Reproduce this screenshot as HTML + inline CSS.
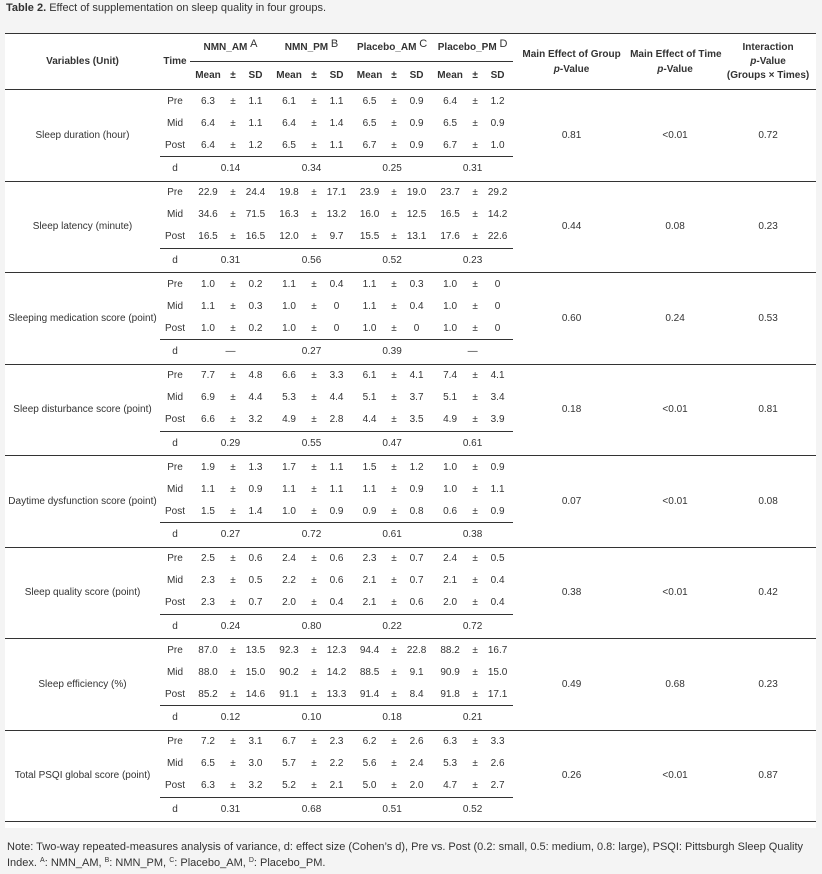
<!DOCTYPE html>
<html><head><meta charset="utf-8"><style>
html,body{margin:0;padding:0;background:#f4f4f4;width:822px;height:874px;overflow:hidden;font-family:"Liberation Sans",Arial,sans-serif;color:#333}
.title{position:absolute;left:6px;top:2px;font-size:11px;color:#333}
.wrap{position:absolute;left:5px;top:33px;width:811px;height:795px;background:#fff}
table{border-collapse:collapse;table-layout:fixed;width:811px;font-size:10px;border-top:1.5px solid #333}
td{padding:0;text-align:center;vertical-align:middle;white-space:nowrap;overflow:visible}
th{padding:0;font-weight:bold;text-align:center;vertical-align:middle;white-space:nowrap;font-size:10px}
th sup{font-weight:normal;font-size:11px;vertical-align:3px;line-height:0}
.hb td,.hb th{border-bottom:1.5px solid #333}
tr.r td{height:22px}
tr.d td{height:23.5px}
tr.last td{border-bottom:1.5px solid #333}
.ul{border-bottom:1.5px solid #333}
.sub{border-bottom:1.5px solid #333}
.note{position:absolute;left:7px;top:839px;font-size:11px;line-height:16px;color:#333;width:900px}
.note sup{font-size:7px;vertical-align:4px;line-height:0}
</style></head><body>
<div class="title"><b>Table 2.</b> Effect of supplementation on sleep quality in four groups.</div>
<div class="wrap">
<table>
<colgroup><col style="width:155px"><col style="width:30px">
<col style="width:36px"><col style="width:14px"><col style="width:31px">
<col style="width:36px"><col style="width:14px"><col style="width:31px">
<col style="width:35px"><col style="width:14px"><col style="width:31px">
<col style="width:36px"><col style="width:14px"><col style="width:31px">
<col style="width:117px"><col style="width:90px"><col style="width:96px"></colgroup>
<tr style="height:28px"><th rowspan="2" style="border-bottom:1.5px solid #333">Variables (Unit)</th><th rowspan="2" style="border-bottom:1.5px solid #333">Time</th>
<th colspan="3" class="sub">NMN_AM <sup>A</sup></th><th colspan="3" class="sub">NMN_PM <sup>B</sup></th><th colspan="3" class="sub">Placebo_AM <sup>C</sup></th><th colspan="3" class="sub">Placebo_PM <sup>D</sup></th>
<th rowspan="2" style="border-bottom:1.5px solid #333;line-height:15px">Main Effect of Group<br><i>p</i>-Value</th>
<th rowspan="2" style="border-bottom:1.5px solid #333;line-height:15px">Main Effect of Time<br><i>p</i>-Value</th>
<th rowspan="2" style="border-bottom:1.5px solid #333;line-height:14px">Interaction<br><i>p</i>-Value<br>(Groups × Times)</th></tr>
<tr style="height:28px" class="hb"><th>Mean</th><th>±</th><th>SD</th><th>Mean</th><th>±</th><th>SD</th><th>Mean</th><th>±</th><th>SD</th><th>Mean</th><th>±</th><th>SD</th></tr>

<tr class="r"><td rowspan="4" class="last" style="border-bottom:1.5px solid #333">Sleep duration (hour)</td><td>Pre</td><td>6.3</td><td>±</td><td>1.1</td><td>6.1</td><td>±</td><td>1.1</td><td>6.5</td><td>±</td><td>0.9</td><td>6.4</td><td>±</td><td>1.2</td><td rowspan="4" style="border-bottom:1.5px solid #333">0.81</td><td rowspan="4" style="border-bottom:1.5px solid #333">&lt;0.01</td><td rowspan="4" style="border-bottom:1.5px solid #333">0.72</td></tr>
<tr class="r"><td>Mid</td><td>6.4</td><td>±</td><td>1.1</td><td>6.4</td><td>±</td><td>1.4</td><td>6.5</td><td>±</td><td>0.9</td><td>6.5</td><td>±</td><td>0.9</td></tr>
<tr class="r"><td class="ul">Post</td><td class="ul">6.4</td><td class="ul">±</td><td class="ul">1.2</td><td class="ul">6.5</td><td class="ul">±</td><td class="ul">1.1</td><td class="ul">6.7</td><td class="ul">±</td><td class="ul">0.9</td><td class="ul">6.7</td><td class="ul">±</td><td class="ul">1.0</td></tr>
<tr class="d last"><td>d</td><td colspan="3">0.14</td><td colspan="3">0.34</td><td colspan="3">0.25</td><td colspan="3">0.31</td></tr>

<tr class="r"><td rowspan="4" style="border-bottom:1.5px solid #333">Sleep latency (minute)</td><td>Pre</td><td>22.9</td><td>±</td><td>24.4</td><td>19.8</td><td>±</td><td>17.1</td><td>23.9</td><td>±</td><td>19.0</td><td>23.7</td><td>±</td><td>29.2</td><td rowspan="4" style="border-bottom:1.5px solid #333">0.44</td><td rowspan="4" style="border-bottom:1.5px solid #333">0.08</td><td rowspan="4" style="border-bottom:1.5px solid #333">0.23</td></tr>
<tr class="r"><td>Mid</td><td>34.6</td><td>±</td><td>71.5</td><td>16.3</td><td>±</td><td>13.2</td><td>16.0</td><td>±</td><td>12.5</td><td>16.5</td><td>±</td><td>14.2</td></tr>
<tr class="r"><td class="ul">Post</td><td class="ul">16.5</td><td class="ul">±</td><td class="ul">16.5</td><td class="ul">12.0</td><td class="ul">±</td><td class="ul">9.7</td><td class="ul">15.5</td><td class="ul">±</td><td class="ul">13.1</td><td class="ul">17.6</td><td class="ul">±</td><td class="ul">22.6</td></tr>
<tr class="d last"><td>d</td><td colspan="3">0.31</td><td colspan="3">0.56</td><td colspan="3">0.52</td><td colspan="3">0.23</td></tr>

<tr class="r"><td rowspan="4" style="border-bottom:1.5px solid #333">Sleeping medication score (point)</td><td>Pre</td><td>1.0</td><td>±</td><td>0.2</td><td>1.1</td><td>±</td><td>0.4</td><td>1.1</td><td>±</td><td>0.3</td><td>1.0</td><td>±</td><td>0</td><td rowspan="4" style="border-bottom:1.5px solid #333">0.60</td><td rowspan="4" style="border-bottom:1.5px solid #333">0.24</td><td rowspan="4" style="border-bottom:1.5px solid #333">0.53</td></tr>
<tr class="r"><td>Mid</td><td>1.1</td><td>±</td><td>0.3</td><td>1.0</td><td>±</td><td>0</td><td>1.1</td><td>±</td><td>0.4</td><td>1.0</td><td>±</td><td>0</td></tr>
<tr class="r"><td class="ul">Post</td><td class="ul">1.0</td><td class="ul">±</td><td class="ul">0.2</td><td class="ul">1.0</td><td class="ul">±</td><td class="ul">0</td><td class="ul">1.0</td><td class="ul">±</td><td class="ul">0</td><td class="ul">1.0</td><td class="ul">±</td><td class="ul">0</td></tr>
<tr class="d last"><td>d</td><td colspan="3">—</td><td colspan="3">0.27</td><td colspan="3">0.39</td><td colspan="3">—</td></tr>

<tr class="r"><td rowspan="4" style="border-bottom:1.5px solid #333">Sleep disturbance score (point)</td><td>Pre</td><td>7.7</td><td>±</td><td>4.8</td><td>6.6</td><td>±</td><td>3.3</td><td>6.1</td><td>±</td><td>4.1</td><td>7.4</td><td>±</td><td>4.1</td><td rowspan="4" style="border-bottom:1.5px solid #333">0.18</td><td rowspan="4" style="border-bottom:1.5px solid #333">&lt;0.01</td><td rowspan="4" style="border-bottom:1.5px solid #333">0.81</td></tr>
<tr class="r"><td>Mid</td><td>6.9</td><td>±</td><td>4.4</td><td>5.3</td><td>±</td><td>4.4</td><td>5.1</td><td>±</td><td>3.7</td><td>5.1</td><td>±</td><td>3.4</td></tr>
<tr class="r"><td class="ul">Post</td><td class="ul">6.6</td><td class="ul">±</td><td class="ul">3.2</td><td class="ul">4.9</td><td class="ul">±</td><td class="ul">2.8</td><td class="ul">4.4</td><td class="ul">±</td><td class="ul">3.5</td><td class="ul">4.9</td><td class="ul">±</td><td class="ul">3.9</td></tr>
<tr class="d last"><td>d</td><td colspan="3">0.29</td><td colspan="3">0.55</td><td colspan="3">0.47</td><td colspan="3">0.61</td></tr>

<tr class="r"><td rowspan="4" style="border-bottom:1.5px solid #333">Daytime dysfunction score (point)</td><td>Pre</td><td>1.9</td><td>±</td><td>1.3</td><td>1.7</td><td>±</td><td>1.1</td><td>1.5</td><td>±</td><td>1.2</td><td>1.0</td><td>±</td><td>0.9</td><td rowspan="4" style="border-bottom:1.5px solid #333">0.07</td><td rowspan="4" style="border-bottom:1.5px solid #333">&lt;0.01</td><td rowspan="4" style="border-bottom:1.5px solid #333">0.08</td></tr>
<tr class="r"><td>Mid</td><td>1.1</td><td>±</td><td>0.9</td><td>1.1</td><td>±</td><td>1.1</td><td>1.1</td><td>±</td><td>0.9</td><td>1.0</td><td>±</td><td>1.1</td></tr>
<tr class="r"><td class="ul">Post</td><td class="ul">1.5</td><td class="ul">±</td><td class="ul">1.4</td><td class="ul">1.0</td><td class="ul">±</td><td class="ul">0.9</td><td class="ul">0.9</td><td class="ul">±</td><td class="ul">0.8</td><td class="ul">0.6</td><td class="ul">±</td><td class="ul">0.9</td></tr>
<tr class="d last"><td>d</td><td colspan="3">0.27</td><td colspan="3">0.72</td><td colspan="3">0.61</td><td colspan="3">0.38</td></tr>

<tr class="r"><td rowspan="4" style="border-bottom:1.5px solid #333">Sleep quality score (point)</td><td>Pre</td><td>2.5</td><td>±</td><td>0.6</td><td>2.4</td><td>±</td><td>0.6</td><td>2.3</td><td>±</td><td>0.7</td><td>2.4</td><td>±</td><td>0.5</td><td rowspan="4" style="border-bottom:1.5px solid #333">0.38</td><td rowspan="4" style="border-bottom:1.5px solid #333">&lt;0.01</td><td rowspan="4" style="border-bottom:1.5px solid #333">0.42</td></tr>
<tr class="r"><td>Mid</td><td>2.3</td><td>±</td><td>0.5</td><td>2.2</td><td>±</td><td>0.6</td><td>2.1</td><td>±</td><td>0.7</td><td>2.1</td><td>±</td><td>0.4</td></tr>
<tr class="r"><td class="ul">Post</td><td class="ul">2.3</td><td class="ul">±</td><td class="ul">0.7</td><td class="ul">2.0</td><td class="ul">±</td><td class="ul">0.4</td><td class="ul">2.1</td><td class="ul">±</td><td class="ul">0.6</td><td class="ul">2.0</td><td class="ul">±</td><td class="ul">0.4</td></tr>
<tr class="d last"><td>d</td><td colspan="3">0.24</td><td colspan="3">0.80</td><td colspan="3">0.22</td><td colspan="3">0.72</td></tr>

<tr class="r"><td rowspan="4" style="border-bottom:1.5px solid #333">Sleep efficiency (%)</td><td>Pre</td><td>87.0</td><td>±</td><td>13.5</td><td>92.3</td><td>±</td><td>12.3</td><td>94.4</td><td>±</td><td>22.8</td><td>88.2</td><td>±</td><td>16.7</td><td rowspan="4" style="border-bottom:1.5px solid #333">0.49</td><td rowspan="4" style="border-bottom:1.5px solid #333">0.68</td><td rowspan="4" style="border-bottom:1.5px solid #333">0.23</td></tr>
<tr class="r"><td>Mid</td><td>88.0</td><td>±</td><td>15.0</td><td>90.2</td><td>±</td><td>14.2</td><td>88.5</td><td>±</td><td>9.1</td><td>90.9</td><td>±</td><td>15.0</td></tr>
<tr class="r"><td class="ul">Post</td><td class="ul">85.2</td><td class="ul">±</td><td class="ul">14.6</td><td class="ul">91.1</td><td class="ul">±</td><td class="ul">13.3</td><td class="ul">91.4</td><td class="ul">±</td><td class="ul">8.4</td><td class="ul">91.8</td><td class="ul">±</td><td class="ul">17.1</td></tr>
<tr class="d last"><td>d</td><td colspan="3">0.12</td><td colspan="3">0.10</td><td colspan="3">0.18</td><td colspan="3">0.21</td></tr>

<tr class="r"><td rowspan="4" style="border-bottom:1.5px solid #333">Total PSQI global score (point)</td><td>Pre</td><td>7.2</td><td>±</td><td>3.1</td><td>6.7</td><td>±</td><td>2.3</td><td>6.2</td><td>±</td><td>2.6</td><td>6.3</td><td>±</td><td>3.3</td><td rowspan="4" style="border-bottom:1.5px solid #333">0.26</td><td rowspan="4" style="border-bottom:1.5px solid #333">&lt;0.01</td><td rowspan="4" style="border-bottom:1.5px solid #333">0.87</td></tr>
<tr class="r"><td>Mid</td><td>6.5</td><td>±</td><td>3.0</td><td>5.7</td><td>±</td><td>2.2</td><td>5.6</td><td>±</td><td>2.4</td><td>5.3</td><td>±</td><td>2.6</td></tr>
<tr class="r"><td class="ul">Post</td><td class="ul">6.3</td><td class="ul">±</td><td class="ul">3.2</td><td class="ul">5.2</td><td class="ul">±</td><td class="ul">2.1</td><td class="ul">5.0</td><td class="ul">±</td><td class="ul">2.0</td><td class="ul">4.7</td><td class="ul">±</td><td class="ul">2.7</td></tr>
<tr class="d last"><td>d</td><td colspan="3">0.31</td><td colspan="3">0.68</td><td colspan="3">0.51</td><td colspan="3">0.52</td></tr>
</table>
</div>
<div class="note">Note: Two-way repeated-measures analysis of variance, d: effect size (Cohen’s d), Pre vs. Post (0.2: small, 0.5: medium, 0.8: large), PSQI: Pittsburgh Sleep Quality<br>Index. <sup>A</sup>: NMN_AM, <sup>B</sup>: NMN_PM, <sup>C</sup>: Placebo_AM, <sup>D</sup>: Placebo_PM.</div>
</body></html>
